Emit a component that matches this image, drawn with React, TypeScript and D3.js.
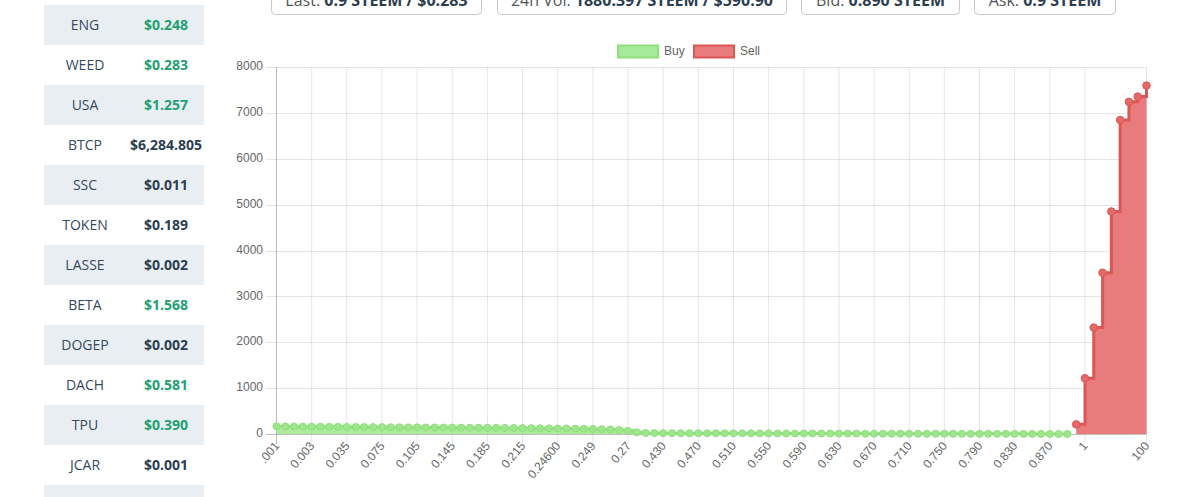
import React from "react";
import * as d3 from "d3";

const priceLabels: string[] = [
  ".001", "0.0011", "0.0015", "0.002", "0.003", "0.005", "0.01", "0.02", "0.035", "0.04",
  "0.05", "0.06", "0.075", "0.08", "0.09", "0.1", "0.105", "0.11", "0.12", "0.135",
  "0.145", "0.15", "0.16", "0.175", "0.185", "0.19", "0.2", "0.21", "0.215", "0.22",
  "0.23", "0.24", "0.24600", "0.247", "0.2475", "0.248", "0.249", "0.25", "0.255", "0.26",
  "0.27", "0.400", "0.410", "0.420", "0.430", "0.440", "0.450", "0.460", "0.470", "0.480",
  "0.490", "0.500", "0.510", "0.520", "0.530", "0.540", "0.550", "0.560", "0.570", "0.580",
  "0.590", "0.600", "0.610", "0.620", "0.630", "0.640", "0.650", "0.660", "0.670", "0.680",
  "0.690", "0.700", "0.710", "0.720", "0.730", "0.740", "0.750", "0.760", "0.770", "0.780",
  "0.790", "0.800", "0.810", "0.820", "0.830", "0.840", "0.850", "0.860", "0.870", "0.880",
  "0.890", "0.9", "1", "1.5", "2", "5", "10", "20", "50", "100",
];

const buyDepth: number[] = [
  168, 166, 165, 163, 162, 160, 158, 157, 155, 154,
  152, 151, 150, 148, 147, 146, 145, 144, 143, 141,
  140, 139, 138, 137, 136, 135, 133, 131, 129, 127,
  125, 123, 121, 119, 117, 114, 111, 106, 100, 88,
  70, 36, 22, 20, 19, 18, 18, 17, 17, 16,
  16, 15, 15, 14, 14, 13, 13, 12, 12, 11,
  11, 10, 10, 10, 9, 9, 9, 8, 8, 8,
  7, 7, 7, 6, 6, 6, 5, 5, 5, 4,
  4, 4, 3, 3, 3, 2, 2, 2, 1, 1,
  1,
];

const sellDepth: number[] = [210, 1215, 2320, 3515, 4850, 6845, 7240, 7355, 7595];

const yTicks: number[] = [0, 1000, 2000, 3000, 4000, 5000, 6000, 7000, 8000];

const symbols: string[] = ["ENG", "WEED", "USA", "BTCP", "SSC", "TOKEN", "LASSE", "BETA", "DOGEP", "DACH", "TPU", "JCAR"];
const usdPrices: string[] = ["$0.248", "$0.283", "$1.257", "$6,284.805", "$0.011", "$0.189", "$0.002", "$1.568", "$0.002", "$0.581", "$0.390", "$0.001"];
const priceUp: boolean[] = [true, true, true, false, false, false, false, true, false, true, true, false];

const statLabels: string[] = ["Last:", "24h Vol:", "Bid:", "Ask:"];
const statValues: string[] = ["0.9 STEEM / $0.283", "1880.397 STEEM / $590.90", "0.890 STEEM", "0.9 STEEM"];

const W = 1203;
const H = 497;
const PLOT = { left: 276.5, right: 1146.5, top: 67, bottom: 434 };
const CHART_FONT = "'Helvetica Neue', Helvetica, Arial, 'Liberation Sans', sans-serif";
const PAGE_FONT = "'Open Sans', 'Noto Sans', sans-serif";

const GREEN_FILL = "rgba(150,228,128,0.78)";
const GREEN_LINE = "#8fdf7c";
const RED_FILL = "#e87b7b";
const RED_LINE = "#dc5656";

type Pt = { i: number; v: number };

export default function App() {
  const x = d3.scalePoint<string>().domain(priceLabels).range([PLOT.left, PLOT.right]).padding(0);
  const y = d3.scaleLinear().domain([0, 8000]).range([PLOT.bottom, PLOT.top]);

  const buyPts: Pt[] = buyDepth.map((v, i) => ({ i, v }));
  const sellPts: Pt[] = sellDepth.map((v, k) => ({ i: buyDepth.length + k, v }));

  const px = (p: Pt) => x(priceLabels[p.i]) as number;
  const area = d3.area<Pt>().x(px).y0(y(0)).y1((p) => y(p.v)).curve(d3.curveStepAfter);
  const line = d3.line<Pt>().x(px).y((p) => y(p.v)).curve(d3.curveStepAfter);

  // which category labels are shown (autoskip every 4th, plus last)
  const n = priceLabels.length;
  const skip = 4;
  const shown: number[] = [];
  priceLabels.forEach((_, i) => {
    if (i === n - 1) shown.push(i);
    else if (i % skip === 0 && i + skip < n) shown.push(i);
  });

  const crisp = (v: number) => Math.round(v) + 0.5;

  // stat buttons
  const btnX = [271.5, 497.5, 801.5, 974.5];
  const btnW = [210, 289, 158, 141];

  return (
    <div style={{ position: "absolute", left: 0, top: 0 }}>
      <svg width={W} height={H} style={{ display: "block", background: "#fff" }}>
        {/* left ticker table */}
        <g fontFamily={PAGE_FONT} fontSize={14}>
          {symbols.map((s, i) => (
            <g key={s} transform={`translate(0, ${5 + i * 40})`}>
              {i % 2 === 0 && <rect x={44} y={0} width={160} height={40} fill="#e9eef2" />}
              <text x={85} y={25} textAnchor="middle" fill="#34495e">{s}</text>
              <text x={166} y={25} textAnchor="middle" fontWeight={700} fill={priceUp[i] ? "#22a071" : "#2c3e50"}>
                {usdPrices[i]}
              </text>
            </g>
          ))}
          <rect x={44} y={485} width={160} height={40} fill="#e9eef2" />
        </g>

        {/* stat buttons */}
        <g fontFamily={PAGE_FONT} fontSize={16}>
          {statLabels.map((l, i) => (
            <g key={l}>
              <rect x={btnX[i]} y={-10} width={btnW[i]} height={24.5} rx={4} fill="#fff" stroke="#c8c8c8" />
              <text x={btnX[i] + btnW[i] / 2} y={6} textAnchor="middle" fill="#2c3e50">
                <tspan fill="#555">{l} </tspan>
                <tspan fontWeight={700}>{statValues[i]}</tspan>
              </text>
            </g>
          ))}
        </g>

        {/* legend */}
        <g fontFamily={CHART_FONT} fontSize={12} fill="#666">
          <rect x={618} y={45.5} width={40} height={12} fill="#a7e99a" stroke={GREEN_LINE} strokeWidth={2} />
          <text x={664} y={51.5} dominantBaseline="middle">Buy</text>
          <rect x={694} y={45.5} width={40} height={12} fill={RED_FILL} stroke={RED_LINE} strokeWidth={2} />
          <text x={740} y={51.5} dominantBaseline="middle">Sell</text>
        </g>

        {/* horizontal gridlines + y labels */}
        <g fontFamily={CHART_FONT} fontSize={12}>
          {yTicks.map((t) => (
            <g key={t}>
              <line
                x1={266}
                x2={PLOT.right}
                y1={crisp(y(t))}
                y2={crisp(y(t))}
                stroke={t === 0 ? "rgba(0,0,0,0.25)" : "rgba(0,0,0,0.1)"}
              />
              <text x={263} y={y(t)} textAnchor="end" dominantBaseline="middle" fill="#666">{t}</text>
            </g>
          ))}
        </g>

        {/* vertical gridlines + x labels */}
        <g fontFamily={CHART_FONT} fontSize={12}>
          {shown.map((i) => {
            const xv = x(priceLabels[i]) as number;
            return (
              <g key={i}>
                <line
                  x1={xv}
                  x2={xv}
                  y1={PLOT.top}
                  y2={PLOT.bottom + 10}
                  stroke={i === 0 ? "rgba(0,0,0,0.25)" : "rgba(0,0,0,0.1)"}
                />
                <text
                  transform={`translate(${xv + 1}, ${PLOT.bottom + 10}) rotate(-50)`}
                  textAnchor="end"
                  dominantBaseline="middle"
                  fill="#666"
                >
                  {priceLabels[i]}
                </text>
              </g>
            );
          })}
        </g>

        {/* sell series */}
        <path d={area(sellPts) || ""} fill={RED_FILL} />
        <path d={line(sellPts) || ""} fill="none" stroke={RED_LINE} strokeWidth={3} />
        {sellPts.map((p) => (
          <circle key={p.i} cx={px(p)} cy={y(p.v)} r={3.8} fill="#e46a6a" stroke={RED_LINE} strokeWidth={1} />
        ))}

        {/* buy series */}
        <path d={area(buyPts) || ""} fill={GREEN_FILL} />
        <path d={line(buyPts) || ""} fill="none" stroke={GREEN_LINE} strokeWidth={3} />
        {buyPts.map((p) => (
          <circle key={p.i} cx={px(p)} cy={y(p.v)} r={3.5} fill="#9de68c" stroke={GREEN_LINE} strokeWidth={1} />
        ))}
      </svg>
    </div>
  );
}
